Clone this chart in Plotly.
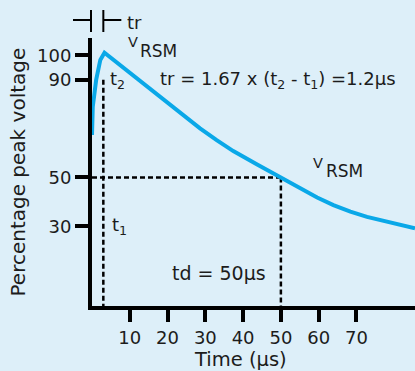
import plotly.graph_objects as go

# ---- data ----
time_us = [0, 0.2, 1.1, 2.2, 3.3, 8.5, 13.1, 17.6, 22.4, 28.6, 33.0, 37.4,
           43.6, 50.0, 55.1, 59.6, 63.9, 68.4, 72.8, 77.3, 81.6, 85.5]
voltage_pct = [67.4, 78.9, 89.9, 98.1, 101.0, 94.7, 89.2, 83.7, 77.6, 70.1, 65.3, 60.8,
               55.4, 50.0, 45.6, 41.8, 38.7, 36.0, 33.9, 32.1, 30.6, 29.2]
x_ticks = [10, 20, 30, 40, 50, 60, 70]
y_ticks = [30, 50, 90, 100]
t_rise = 3.0        # time of t1 / t2 marker line
t1_level, t2_level = 30, 90
td_time, td_level = 50, 50

# ---- layout geometry ----
W, H = 415, 371
L, R, T, B = 92, 0, 38, 65
PW, PH = W - L - R, H - T - B
X0, X1 = 0.0, 85.5
Y0, Y1 = -2.58, 107.05

def px2x(px):
    return X0 + (px - L) / PW * (X1 - X0)

def py2y(py):
    return Y1 - (py - T) / PH * (Y1 - Y0)

def x2paper(x):
    return (x - X0) / (X1 - X0)

def px2paper(px):
    return (px - L) / PW

def py2paper(py):
    return (H - B - py) / PH

FONT = "DejaVu Sans"
TXT = "#1c1c1c"
BG = "#ddeff9"
BLUE = "#0aa8e8"

fig = go.Figure()

dash = "5px,3px"
for xs, ys in [([t_rise, t_rise], [t2_level, Y0]),
               ([0, td_time], [td_level, td_level]),
               ([td_time, td_time], [td_level, Y0])]:
    fig.add_trace(go.Scatter(x=xs, y=ys, mode="lines",
                             line=dict(color="black", width=2.5, dash=dash),
                             hoverinfo="skip"))
fig.add_trace(go.Scatter(x=time_us, y=voltage_pct, mode="lines",
                         line=dict(color=BLUE, width=4), hoverinfo="skip"))

# rise-time bracket above the plot
yb_mid, yb_top, yb_bot = py2paper(20), py2paper(10), py2paper(32)
arm = 18 / PW
xa, xb = x2paper(0) - 1 / PW, x2paper(t_rise)
for x0, x1, y0, y1 in [(xa - arm, xa, yb_mid, yb_mid), (xa, xa, yb_bot, yb_top),
                       (xb, xb, yb_bot, yb_top), (xb, xb + arm, yb_mid, yb_mid)]:
    fig.add_shape(type="line", xref="paper", yref="paper", x0=x0, x1=x1, y0=y0, y1=y1,
                  line=dict(color="black", width=2))

ann = []
def text(t, x, y, size, xanchor="left", yanchor="middle", angle=0, xref="x", yref="y"):
    ann.append(dict(text=t, x=x, y=y, xref=xref, yref=yref, showarrow=False,
                    xanchor=xanchor, yanchor=yanchor, textangle=angle,
                    font=dict(family=FONT, size=size, color=TXT), borderpad=0))

text("tr", px2paper(125.5), py2paper(22), 18, xref="paper", yref="paper")
text("V", px2x(133.3), py2y(41.7), 14.5, xanchor="center")
text("RSM", px2x(158.5), py2y(50.8), 17, xanchor="center")
text("V", px2x(318), py2y(162.5), 14.5, xanchor="center")
text("RSM", px2x(344.5), py2y(171), 17, xanchor="center")
text("t<sub>2</sub>", px2x(109), t2_level, 18)
text("t<sub>1</sub>", px2x(110.5), t1_level, 18)
text("tr = 1.67 x (t<sub>2</sub> - t<sub>1</sub>) =1.2µs", px2x(159), py2y(80), 18)
text("td = 50µs", px2x(171), py2y(273), 19)
text("Percentage peak voltage", (17.5 - L) / PW, 0.5, 20, xanchor="center",
     angle=-90, xref="paper", yref="paper")
text("Time (µs)", px2x(240), py2paper(359), 19.5, xanchor="center", yref="paper")

fig.update_layout(
    width=W, height=H,
    margin=dict(l=L, r=R, t=T, b=B, autoexpand=False),
    paper_bgcolor=BG, plot_bgcolor=BG,
    showlegend=False,
    annotations=ann,
    font=dict(family=FONT, color=TXT),
)
fig.update_xaxes(range=[X0, X1], showgrid=False, zeroline=False,
                 showline=True, linecolor="black", linewidth=4,
                 ticks="outside", tickcolor="black", tickwidth=4, ticklen=12,
                 tickvals=x_ticks, ticktext=[str(v) for v in x_ticks],
                 tickfont=dict(family=FONT, size=18, color=TXT))
fig.update_yaxes(range=[Y0, Y1], showgrid=False, zeroline=False,
                 showline=True, linecolor="black", linewidth=4,
                 ticks="outside", tickcolor="black", tickwidth=4, ticklen=13,
                 tickvals=y_ticks, ticktext=[str(v) for v in y_ticks],
                 tickfont=dict(family=FONT, size=18, color=TXT))

fig.write_html("out.html", config={"displayModeBar": False},
               post_script="document.body.style.margin='0';document.body.style.background='" + BG + "';")
